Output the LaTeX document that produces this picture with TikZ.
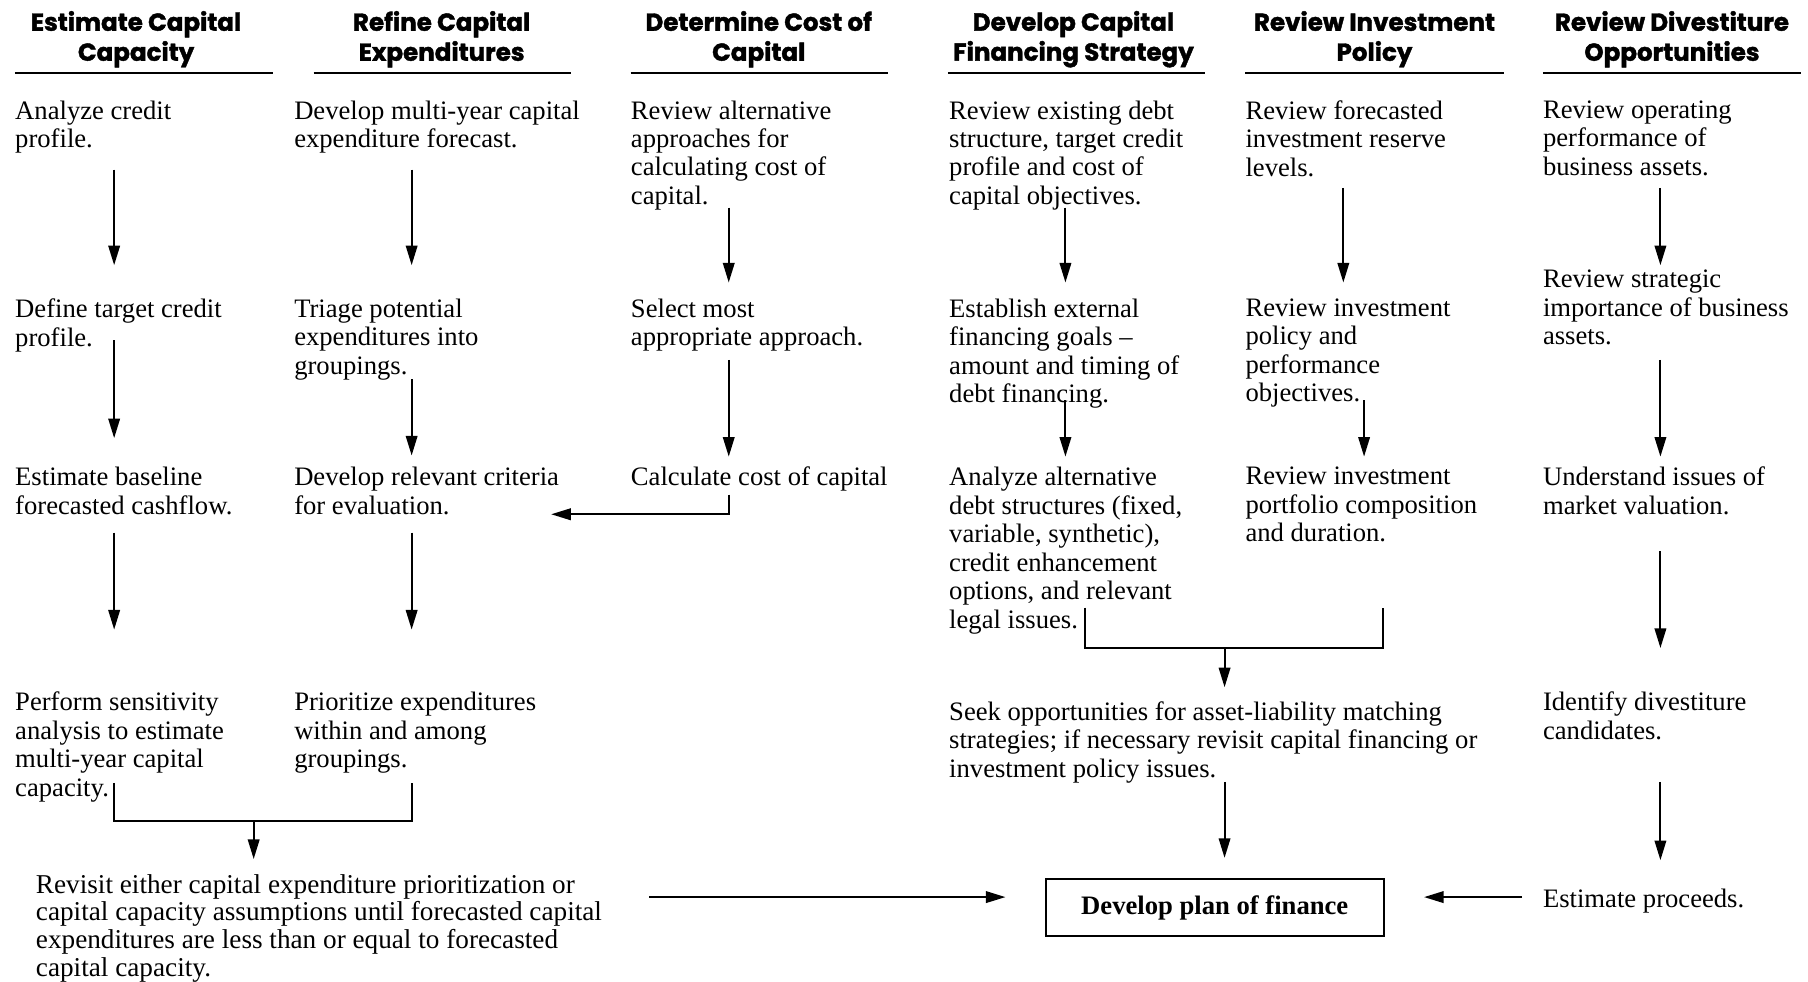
\documentclass[tikz,border=0pt]{standalone}
\usepackage{fontspec}
\setmainfont{Liberation Serif}
\newfontfamily\hdfont{Poppins}[BoldFeatures={FakeBold=1.6}]
\usetikzlibrary{arrows.meta}
\begin{document}
\begin{tikzpicture}[x=1pt,y=-1pt,
  txt/.style={anchor=north west,inner sep=0pt,align=left,font=\fontsize{23.1}{24.7}\selectfont},
  hd/.style={anchor=center,inner sep=0pt,align=center,font=\hdfont\bfseries\fontsize{21.3}{26}\selectfont},
  rule/.style={line width=1.6pt},
  con/.style={line width=1.7pt},
  arr/.style={con,-{Triangle[length=17pt,width=10pt]}},
  planbox/.style={draw,line width=1.5pt,minimum width=293pt,minimum height=50pt,inner sep=0pt,font=\bfseries\fontsize{23.1}{24.7}\selectfont}
]
\useasboundingbox (0,0) rectangle (1568,851);
% headers
\node[hd] (h1) at (118,34) {Estimate Capital\\Capacity};
\node[hd] (h2) at (383,34) {Refine Capital\\Expenditures};
\node[hd] (h3) at (658,34) {Determine Cost of\\Capital};
\node[hd] (h4) at (931,34) {Develop Capital\\Financing Strategy};
\node[hd] (h5) at (1192,34) {Review Investment\\Policy};
\node[hd] (h6) at (1450,34) {Review Divestiture\\Opportunities};
\draw[rule] (13,63) -- (237,63);
\draw[rule] (272,63) -- (495,63);
\draw[rule] (547,63) -- (770,63);
\draw[rule] (822,63) -- (1045,63);
\draw[rule] (1080,63) -- (1304,63);
\draw[rule] (1338,63) -- (1562,63);
% column 1
\node[txt] (a1) at (13,87) {Analyze credit\\profile.};
\node[txt] (a2) at (13,259) {Define target credit\\profile.};
\node[txt] (a3) at (13,405) {Estimate baseline\\forecasted cashflow.};
\node[txt] (a4) at (13,600) {Perform sensitivity\\analysis to estimate\\multi-year capital\\capacity.};
% column 2
\node[txt] (b1) at (255,87) {Develop multi-year capital\\expenditure forecast.};
\node[txt] (b2) at (255,259) {Triage potential\\expenditures into\\groupings.};
\node[txt] (b3) at (255,405) {Develop relevant criteria\\for evaluation.};
\node[txt] (b4) at (255,600) {Prioritize expenditures\\within and among\\groupings.};
% column 3
\node[txt] (c1) at (547,87) {Review alternative\\approaches for\\calculating cost of\\capital.};
\node[txt] (c2) at (547,259) {Select most\\appropriate approach.};
\node[txt] (c3) at (547,405) {Calculate cost of capital};
% column 4
\node[txt] (d1) at (823,87) {Review existing debt\\structure, target credit\\profile and cost of\\capital objectives.};
\node[txt] (d2) at (823,259) {Establish external\\financing goals --\\amount and timing of\\debt financing.};
\node[txt] (d3) at (823,405) {Analyze alternative\\debt structures (fixed,\\variable, synthetic),\\credit enhancement\\options, and relevant\\legal issues.};
\node[txt] (d4) at (823,608) {Seek opportunities for asset-liability matching\\strategies; if necessary revisit capital financing or\\investment policy issues.};
% column 5
\node[txt] (e1) at (1080,87) {Review forecasted\\investment reserve\\levels.};
\node[txt] (e2) at (1080,259) {Review investment\\policy and\\performance\\objectives.};
\node[txt] (e3) at (1080,405) {Review investment\\portfolio composition\\and duration.};
% column 6
\node[txt] (f1) at (1338,87) {Review operating\\performance of\\business assets.};
\node[txt] (f2) at (1338,234) {Review strategic\\importance of business\\assets.};
\node[txt] (f3) at (1338,405) {Understand issues of\\market valuation.};
\node[txt] (f4) at (1338,600) {Identify divestiture\\candidates.};
\node[txt] (f5) at (1338,771) {Estimate proceeds.};
% bottom
\node[txt,font=\fontsize{23.6}{24}\selectfont] (g) at (31,758) {Revisit either capital expenditure prioritization or\\capital capacity assumptions until forecasted capital\\expenditures are less than or equal to forecasted\\capital capacity.};
\node[planbox] (plan) at (1053.5,787) {Develop plan of finance};
% arrow end points
\coordinate (a1o) at (99,147);  \coordinate (a2i) at (99,230);
\coordinate (a2o) at (99,295);  \coordinate (a3i) at (99,380);
\coordinate (a3o) at (99,462);  \coordinate (a4i) at (99,546);
\coordinate (b1o) at (357,147); \coordinate (b2i) at (357,230);
\coordinate (b2o) at (357,329); \coordinate (b3i) at (357,395);
\coordinate (b3o) at (357,462); \coordinate (b4i) at (357,546);
\coordinate (c1o) at (632,180); \coordinate (c2i) at (632,245);
\coordinate (c2o) at (632,312); \coordinate (c3i) at (632,396);
\coordinate (c3o) at (632,429); \coordinate (b3e) at (478,446);
\coordinate (d1o) at (924,180); \coordinate (d2i) at (924,245);
\coordinate (d2o) at (924,347); \coordinate (d3i) at (924,396);
\coordinate (e1o) at (1165,163); \coordinate (e2i) at (1165,245);
\coordinate (e2o) at (1183,347); \coordinate (e3i) at (1183,396);
\coordinate (f1o) at (1440,163); \coordinate (f2i) at (1440,230);
\coordinate (f2o) at (1440,312); \coordinate (f3i) at (1440,396);
\coordinate (f3o) at (1440,478); \coordinate (f4i) at (1440,562);
\coordinate (f4o) at (1440,678); \coordinate (f5i) at (1440,746);
\coordinate (a4o) at (99,679);  \coordinate (b4o) at (357,679);
\coordinate (m1) at (220,712);  \coordinate (gi) at (220,745);
\coordinate (d3o) at (941,527); \coordinate (e3o) at (1199,527);
\coordinate (m2) at (1062,562); \coordinate (d4i) at (1062,596);
\coordinate (d4o) at (1062,678); \coordinate (pn) at (1062,744);
\coordinate (go) at (563,778);   \coordinate (pw) at (872,778);
\coordinate (f5o) at (1320,778); \coordinate (pe) at (1235,778);
% connectors
\draw[arr] (a1o) -- (a2i);
\draw[arr] (a2o) -- (a3i);
\draw[arr] (a3o) -- (a4i);
\draw[arr] (b1o) -- (b2i);
\draw[arr] (b2o) -- (b3i);
\draw[arr] (b3o) -- (b4i);
\draw[arr] (c1o) -- (c2i);
\draw[arr] (c2o) -- (c3i);
\draw[arr] (c3o) |- (b3e);
\draw[arr] (d1o) -- (d2i);
\draw[arr] (d2o) -- (d3i);
\draw[arr] (e1o) -- (e2i);
\draw[arr] (e2o) -- (e3i);
\draw[arr] (f1o) -- (f2i);
\draw[arr] (f2o) -- (f3i);
\draw[arr] (f3o) -- (f4i);
\draw[arr] (f4o) -- (f5i);
\draw[con] (a4o) |- (m1) -| (b4o);
\draw[arr] (m1) -- (gi);
\draw[con] (d3o) |- (m2) -| (e3o);
\draw[arr] (m2) -- (d4i);
\draw[arr] (d4o) -- (pn);
\draw[arr] (go) -- (pw);
\draw[arr] (f5o) -- (pe);
\end{tikzpicture}
\end{document}
